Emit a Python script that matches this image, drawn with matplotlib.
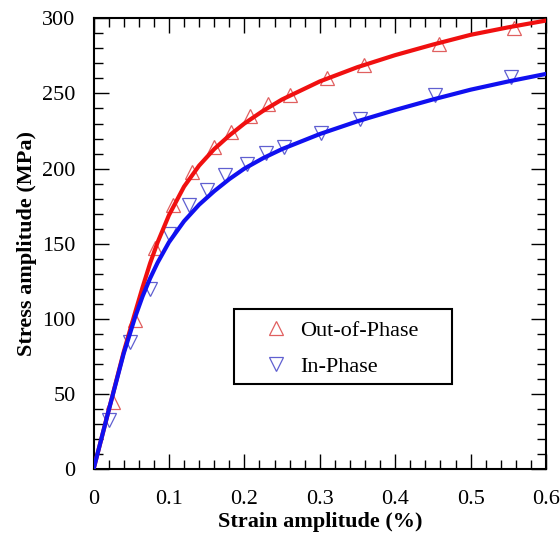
import matplotlib
matplotlib.use("Agg")
import matplotlib.pyplot as plt
from matplotlib.ticker import MultipleLocator
from matplotlib.patches import Rectangle

plt.rcParams['font.family'] = ['Liberation Serif', 'DejaVu Serif']

# measured points (strain %, stress MPa)
oop_strain = [0.026, 0.0556, 0.082, 0.106, 0.131, 0.160, 0.182, 0.208, 0.232, 0.260, 0.3095, 0.359, 0.4587, 0.558]
oop_stress = [44.8, 99.0, 147.0, 175.6, 197.8, 214.4, 224.4, 235.0, 243.3, 248.8, 260.0, 268.8, 282.6, 293.6]

ip_strain = [0.020, 0.049, 0.0755, 0.0997, 0.126, 0.151, 0.175, 0.203, 0.229, 0.252, 0.302, 0.353, 0.453, 0.553]
ip_stress = [32.6, 84.7, 120.2, 156.8, 175.6, 185.6, 195.6, 203.4, 210.5, 214.4, 223.8, 233.3, 249.3, 261.0]

# fitted cyclic stress-strain curves
curve_strain = [0, 0.02, 0.04, 0.055, 0.065, 0.075, 0.085, 0.1, 0.12, 0.14, 0.16, 0.18, 0.2,
                0.225, 0.25, 0.3, 0.35, 0.4, 0.45, 0.5, 0.55, 0.6]
oop_curve = [0, 39, 78, 104, 121, 137, 151, 169, 188, 202, 213, 222, 230,
             238.5, 246, 258, 267.5, 275.5, 282.5, 289, 294, 298.5]
ip_curve = [0, 39, 77, 101, 115, 127, 137.5, 151, 165, 176, 185, 193, 200,
            207, 213, 223, 231.5, 239, 246, 252.5, 258, 263]

fig = plt.figure(figsize=(5.6, 5.38), dpi=100)
ax = fig.add_axes([0.167, 0.1277, 0.808, 0.8383])

ax.plot(oop_strain, oop_stress, linestyle='none', marker='^', ms=10, mfc='none',
        mec='#e06060', mew=0.9, label='Out-of-Phase', zorder=2)
ax.plot(ip_strain, ip_stress, linestyle='none', marker='v', ms=10, mfc='none',
        mec='#6060d0', mew=0.9, label='In-Phase', zorder=2)
ax.plot(curve_strain, oop_curve, color='#f01010', lw=3, solid_capstyle='round', zorder=3)
ax.plot(curve_strain, ip_curve, color='#1010f0', lw=3, solid_capstyle='round', zorder=4)

ax.set_xlim(0, 0.6)
ax.set_ylim(0, 300)
ax.xaxis.set_major_locator(MultipleLocator(0.1))
ax.xaxis.set_minor_locator(MultipleLocator(0.02))
ax.yaxis.set_major_locator(MultipleLocator(50))
ax.yaxis.set_minor_locator(MultipleLocator(10))
ax.set_xticks([0, 0.1, 0.2, 0.3, 0.4, 0.5, 0.6])
ax.set_xticklabels(['0', '0.1', '0.2', '0.3', '0.4', '0.5', '0.6'])

ax.tick_params(which='both', direction='in', top=True, right=True, width=1.0, labelsize=16)
ax.tick_params(which='major', length=11)
ax.tick_params(axis='x', which='major', pad=15)
ax.tick_params(axis='y', which='major', pad=13)
ax.tick_params(which='minor', length=6.5)
for s in ax.spines.values():
    s.set_linewidth(1.5)

ax.set_xlabel('Strain amplitude (%)', fontsize=16, fontweight='bold', labelpad=2)
ax.set_ylabel('Stress amplitude (MPa)', fontsize=16, fontweight='bold', labelpad=4)

leg = ax.legend(loc='upper left', bbox_to_anchor=(0.379, 0.33), frameon=False, fontsize=16,
                borderpad=0, handlelength=1.0, handletextpad=0.58, labelspacing=0.70,
                borderaxespad=0)
ax.add_patch(Rectangle((0.3105, 0.189), 0.4818, 0.1664, transform=ax.transAxes,
                       fill=False, lw=1.5, ec='black', zorder=5))

fig.savefig('out.png', dpi=100)
